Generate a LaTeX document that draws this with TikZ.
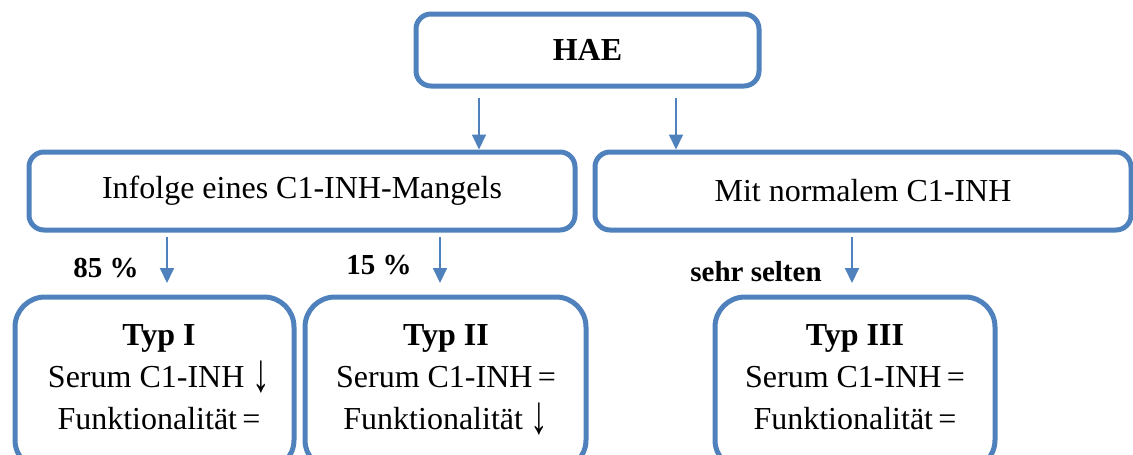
\documentclass[tikz,border=0pt]{standalone}
\usepackage{graphicx}
\usepackage{fontspec}
\setmainfont{Liberation Serif}
\usetikzlibrary{arrows.meta}
\definecolor{bl}{HTML}{4F81BD}
\newcommand{\dnarr}{\raisebox{-0.14em}{\scalebox{1.1}[1.7]{↓}}}
\begin{document}
\begin{tikzpicture}[x=1pt,y=-1pt,
 box/.style={draw=bl, line width=5pt, rounded corners=15pt, inner sep=0pt, font=\fontsize{32}{42}\selectfont},
 bigbox/.style={box, rounded corners=30pt},
 arr/.style={draw=bl, line width=2pt, -{Triangle[length=15pt,width=14pt]}},
 lbl/.style={font=\fontsize{29}{34}\selectfont\bfseries, inner sep=0pt},
 txt/.style={align=center, font=\fontsize{32}{42}\selectfont, inner sep=0pt, anchor=north}]
\useasboundingbox (0,0) rectangle (1133,455);
\clip (0,0) rectangle (1133,455);
\node[box, minimum width=343pt, minimum height=72pt] (hae) at (587.5,50) {\textbf{HAE}};
\node[box, minimum width=546pt, minimum height=78pt] (inf) at (302,191) {Infolge eines C1-INH-Mangels};
\node[box, minimum width=536pt, minimum height=78pt] (mit) at (863,191) {Mit normalem C1-INH};
\node[bigbox, minimum width=279pt, minimum height=173pt] (t1) at (154.5,383.5) {};
\node[bigbox, minimum width=281pt, minimum height=173pt] (t2) at (445.5,383.5) {};
\node[bigbox, minimum width=280pt, minimum height=173pt] (t3) at (855,383.5) {};
\node[txt] (t1txt) at (159,324) {\textbf{Typ I}\\Serum C1-INH \dnarr\\Funktionalität\,=};
\node[txt] (t2txt) at (446,324) {\textbf{Typ II}\\Serum C1-INH\,=\\Funktionalität \dnarr};
\node[txt] (t3txt) at (855,324) {\textbf{Typ III}\\Serum C1-INH\,=\\Funktionalität\,=};
\coordinate (a1) at (479,0);
\coordinate (a2) at (676,0);
\coordinate (a3) at (167,0);
\coordinate (a4) at (440,0);
\coordinate (a5) at (852,0);
\draw[arr, shorten <=9pt] (a1 |- hae.south) -- (a1 |- inf.north);
\draw[arr, shorten <=9pt] (a2 |- hae.south) -- (a2 |- mit.north);
\draw[arr, shorten <=4.5pt, shorten >=11.5pt] (a3 |- inf.south) -- (a3 |- t1.north);
\draw[arr, shorten <=4.5pt, shorten >=11.5pt] (a4 |- inf.south) -- (a4 |- t2.north);
\draw[arr, shorten <=4.5pt, shorten >=11.5pt] (a5 |- mit.south) -- (a5 |- t3.north);
\node[lbl] (l1) at (106,268) {85 \%};
\node[lbl] (l2) at (379,265) {15 \%};
\node[lbl] (l3) at (756,272) {sehr selten};
\end{tikzpicture}
\end{document}
